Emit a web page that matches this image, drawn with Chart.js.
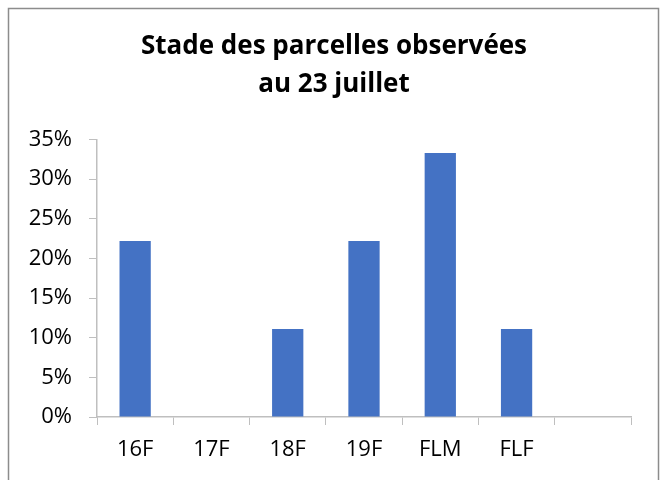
<!DOCTYPE html>
<html>
<head>
<meta charset="utf-8">
<script src="https://cdn.jsdelivr.net/npm/chart.js@4"></script>
<style>
html,body{margin:0;padding:0;background:#fff;}
#wrap{position:absolute;left:0;top:0;width:661px;height:480px;}
</style>
</head>
<body>
<div id="wrap"><canvas id="c" width="661" height="480"></canvas></div>
<script>
const categories = ['16F', '17F', '18F', '19F', 'FLM', 'FLF', ''];
const values = [0.222, 0, 0.111, 0.222, 0.333, 0.111, null];
const titleLines = ['Stade des parcelles observées', 'au 23 juillet'];
const yMin = 0, yMax = 0.35, yStep = 0.05;

const FONT = '"Open Sans", Lato, sans-serif';
const AXIS = '#bfbfbf';

const borderPlugin = {
  id: 'outerBorder',
  afterDraw(chart) {
    const ctx = chart.ctx;
    ctx.save();
    ctx.strokeStyle = '#8c8c8c';
    ctx.lineWidth = 1.5;
    ctx.strokeRect(8.5, 8.5, 650, 480);
    ctx.restore();
  }
};

new Chart(document.getElementById('c'), {
  type: 'bar',
  data: {
    labels: categories,
    datasets: [{
      data: values,
      backgroundColor: '#4472C4',
      borderWidth: 0,
      categoryPercentage: 1.0,
      barPercentage: 0.41
    }]
  },
  plugins: [borderPlugin],
  options: {
    responsive: false,
    animation: false,
    devicePixelRatio: 1,
    layout: { padding: { left: 7, right: 0, top: 0, bottom: 0 } },
    plugins: {
      legend: { display: false },
      tooltip: { enabled: false },
      title: {
        display: true,
        text: titleLines,
        color: '#000',
        font: { family: FONT, size: 26, weight: 'bold', lineHeight: 1.45 },
        padding: { top: 28, bottom: 36 }
      }
    },
    scales: {
      x: {
        offset: true,
        grid: { display: true, drawOnChartArea: false, drawTicks: true, tickLength: 8, color: AXIS, offset: true },
        border: { display: true, color: AXIS, width: 1.5 },
        ticks: { color: '#000', font: { family: FONT, size: 22 }, padding: 12, maxRotation: 0 },
        afterFit(scale) { scale.height = 63; }
      },
      y: {
        min: yMin,
        max: yMax,
        grid: { display: true, drawOnChartArea: false, drawTicks: true, tickLength: 8, color: AXIS },
        border: { display: true, color: AXIS, width: 1.5 },
        ticks: {
          stepSize: yStep,
          color: '#000',
          font: { family: FONT, size: 22 },
          padding: 17,
          callback: v => Math.round(v * 100) + '%'
        },
        afterFit(scale) { scale.width = 90; }
      },
      yRight: {
        position: 'right',
        min: yMin,
        max: yMax,
        grid: { display: false },
        border: { display: false },
        ticks: { display: false },
        afterFit(scale) { scale.width = 30; }
      }
    }
  }
});
</script>
</body>
</html>
